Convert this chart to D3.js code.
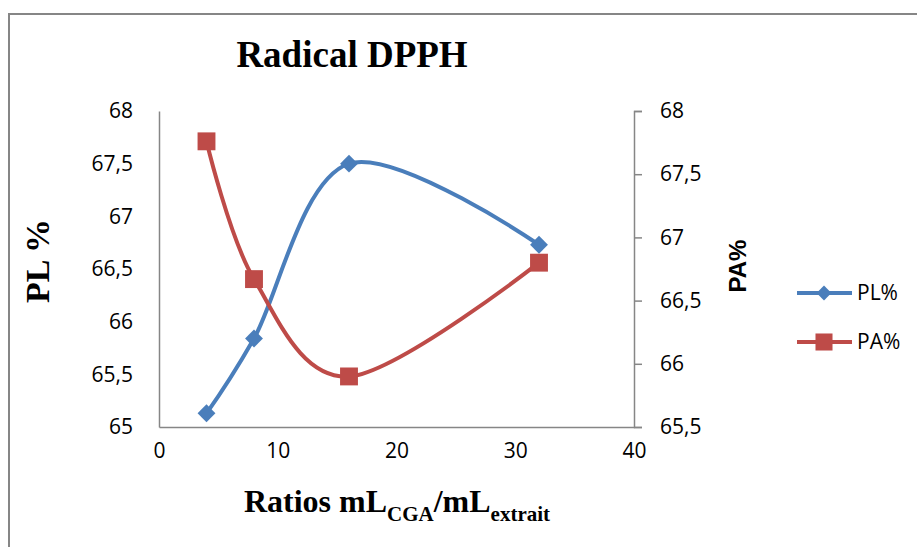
<!DOCTYPE html>
<html>
<head>
<meta charset="utf-8">
<script src="https://cdn.jsdelivr.net/npm/d3@7"></script>
<style>
  html, body { margin: 0; padding: 0; background: #fff; }
  svg { display: block; }
</style>
</head>
<body>
<svg id="chart" width="917" height="547"></svg>
<script>
// ---- data ----
const ratios = [4, 8, 16, 32];
const plValues = [65.13, 65.84, 67.5, 66.73];
const paValues = [67.76, 66.67, 65.9, 66.8];
const seriesNames = ["PL%", "PA%"];
const xTicks = [0, 10, 20, 30, 40];
const leftTicks = [65, 65.5, 66, 66.5, 67, 67.5, 68];
const rightTicks = [65.5, 66, 66.5, 67, 67.5, 68];
const titleText = "Radical DPPH";

const colors = { pl: "#4A7EBB", pa: "#BE4B48" };
const axisColor = "#868686";
const tickFont = "'Open Sans', 'DejaVu Sans', sans-serif";
const serif = "'Liberation Serif', 'Times New Roman', serif";

const svg = d3.select("#chart");
const fmt = v => String(v).replace(".", ",");

// outer chart frame (extends past the visible area)
svg.append("rect")
  .attr("x", 9).attr("y", 14).attr("width", 1000).attr("height", 1000)
  .attr("fill", "none").attr("stroke", axisColor).attr("stroke-width", 2);

const plot = { left: 159, right: 634, top: 111, bottom: 427 };
const x = d3.scaleLinear().domain([0, 40]).range([plot.left, plot.right]);
const yL = d3.scaleLinear().domain([65, 68]).range([plot.bottom, plot.top]);
const yR = d3.scaleLinear().domain([65.5, 68]).range([plot.bottom, plot.top]);

// title
svg.append("text").attr("x", 352).attr("y", 67)
  .attr("text-anchor", "middle")
  .style("font-family", serif).style("font-weight", "bold").style("font-size", "37px")
  .text(titleText);

// left axis (no ticks)
const gL = svg.append("g").attr("transform", `translate(${plot.left},0)`)
  .call(d3.axisLeft(yL).tickValues(leftTicks).tickSize(0).tickPadding(26).tickFormat(fmt));
// right axis (outside ticks)
const gR = svg.append("g").attr("transform", `translate(${plot.right},0)`)
  .call(d3.axisRight(yR).tickValues(rightTicks).tickSize(8).tickPadding(18).tickFormat(fmt));
// bottom axis (no ticks)
const gB = svg.append("g").attr("transform", `translate(0,${plot.bottom})`)
  .call(d3.axisBottom(x).tickValues(xTicks).tickSize(0).tickPadding(27).tickFormat(d3.format("d")));

[gL, gR, gB].forEach(g => {
  g.select(".domain").attr("stroke", axisColor).attr("stroke-width", 1.5);
  g.selectAll(".tick line").attr("stroke", axisColor).attr("stroke-width", 1.5);
  g.selectAll(".tick text").attr("fill", "#000")
    .style("font-family", tickFont).style("font-size", "21px");
});
gB.selectAll(".tick text").attr("dy", "0.2em");

// axis titles
svg.append("text")
  .attr("transform", "translate(49,261) rotate(-90)")
  .attr("text-anchor", "middle")
  .style("font-family", serif).style("font-weight", "bold").style("font-size", "34px")
  .text("PL %");

svg.append("text")
  .attr("transform", "translate(746,266) rotate(-90)")
  .attr("text-anchor", "middle")
  .style("font-family", "'Liberation Sans', Arial, sans-serif").style("font-weight", "bold").style("font-size", "24px")
  .text("PA%");

const xt = svg.append("text")
  .attr("x", 397).attr("y", 512)
  .attr("text-anchor", "middle")
  .style("font-family", serif).style("font-weight", "bold").style("font-size", "32px");
xt.append("tspan").text("Ratios mL");
xt.append("tspan").attr("dy", 9).style("font-size", "21px").text("CGA");
xt.append("tspan").attr("dy", -9).text("/mL");
xt.append("tspan").attr("dy", 9).style("font-size", "21px").text("extrait");

// lines
const curve = d3.curveCardinal.tension(0);
const plData = ratios.map((r, i) => [r, plValues[i]]);
const paData = ratios.map((r, i) => [r, paValues[i]]);

svg.append("path").datum(plData)
  .attr("d", d3.line().x(d => x(d[0])).y(d => yL(d[1])).curve(curve))
  .attr("fill", "none").attr("stroke", colors.pl).attr("stroke-width", 4);
svg.append("path").datum(paData)
  .attr("d", d3.line().x(d => x(d[0])).y(d => yR(d[1])).curve(curve))
  .attr("fill", "none").attr("stroke", colors.pa).attr("stroke-width", 4);

svg.append("g").selectAll("path").data(plData).join("path")
  .attr("d", d3.symbol().type(d3.symbolSquare).size(160))
  .attr("transform", d => `translate(${x(d[0])},${yL(d[1])}) rotate(45)`)
  .attr("fill", colors.pl);
svg.append("g").selectAll("path").data(paData).join("path")
  .attr("d", d3.symbol().type(d3.symbolSquare).size(320))
  .attr("transform", d => `translate(${x(d[0])},${yR(d[1])})`)
  .attr("fill", colors.pa);

// legend
const legend = svg.append("g");
const legItems = [
  { name: seriesNames[0], color: colors.pl, y: 293, shape: "diamond" },
  { name: seriesNames[1], color: colors.pa, y: 342, shape: "square" }
];
legItems.forEach(it => {
  legend.append("line").attr("x1", 797).attr("x2", 852).attr("y1", it.y).attr("y2", it.y)
    .attr("stroke", it.color).attr("stroke-width", 4);
  if (it.shape === "diamond") {
    legend.append("path").attr("d", d3.symbol().type(d3.symbolSquare).size(110))
      .attr("transform", `translate(824,${it.y}) rotate(45)`).attr("fill", it.color);
  } else {
    legend.append("path").attr("d", d3.symbol().type(d3.symbolSquare).size(290))
      .attr("transform", `translate(824,${it.y})`).attr("fill", it.color);
  }
  legend.append("text").attr("x", 857).attr("y", it.y).attr("dy", "0.35em")
    .style("font-family", tickFont).style("font-size", "21px").text(it.name);
});
</script>
</body>
</html>
